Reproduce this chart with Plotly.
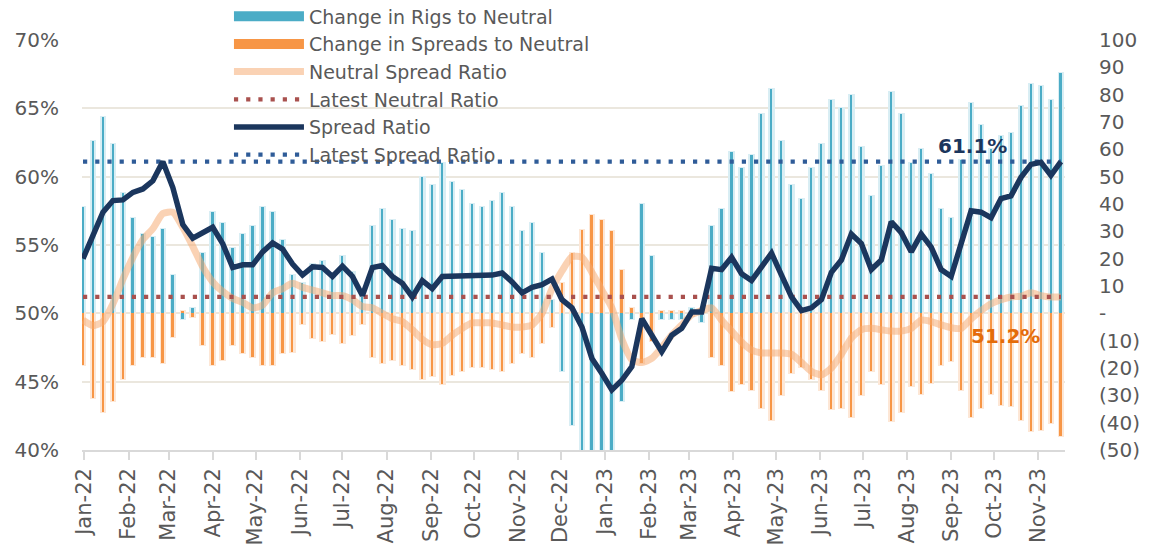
import pandas as pd
import plotly.graph_objects as go

# ---------------- data ----------------
start_date = "2021-12-31"   # weekly observations (Fridays)
n_weeks = 99
dates = pd.date_range(start_date, periods=n_weeks, freq="7D")

rigs_to_neutral = [
    39, 63, 72, 62, 44, 35, 29, 28, 31, 14,
    -2, 2, 22, 37, 33, 24, 29, 32, 39, 37,
    27, 14, 11, 18, 19, 13, 21, 15, 6, 32,
    38, 34, 31, 30, 50, 47, 55, 48, 45, 40,
    39, 41, 44, 39, 30, 33, 22, 5, -21, -41,
    -55, -56, -56, -54, -32, -2, 40, 21, -2, -2,
    -2, 2, -3, 32, 38, 59, 53, 58, 73, 82,
    63, 47, 42, 53, 62, 78, 75, 80, 61, 43,
    54, 81, 73, 55, 60, 51, 38, 35, 56, 77,
    69, 60, 65, 66, 76, 84, 83, 78, 88,
]

spreads_to_neutral = [
    -19, -31, -36, -32, -24, -19, -16, -16, -18, -8.5,
    1, -1.5, -11.5, -19, -17, -11.5, -14.5, -16, -19, -19,
    -14.5, -14, -4, -9, -10, -7.5, -11, -8, -4, -16,
    -18, -17, -19, -20.5, -24, -23, -26, -22.5, -21, -19.5,
    -19.5, -20.5, -21, -18, -14.5, -16, -11, -5, 11, 22,
    30.5, 36, 34, 30, 16, 1.8, -18, -10, 1, 1,
    1, -1, 1.5, -16, -19, -28.5, -26, -28, -34.5, -39,
    -30, -22, -19.5, -24, -28, -35, -34.5, -38, -30, -21,
    -26, -39.5, -36, -26.5, -29.5, -25.5, -19, -17.5, -28, -38,
    -34.5, -29.5, -33.5, -34, -39, -43, -42.5, -40, -45,
]

neutral_spread_ratio = [
    49.5, 49.1, 49.4, 50.7, 52.5, 54.1, 55.4, 56.2, 57.3, 57.4,
    56.3, 54.9, 53.4, 52.3, 51.6, 51.1, 50.8, 50.4, 50.6, 51.5,
    51.8, 52.2, 51.9, 51.7, 51.5, 51.3, 51.3, 51.0, 50.5, 50.4,
    50.0, 49.6, 49.4, 48.8, 48.1, 47.7, 47.8, 48.4, 48.9, 49.3,
    49.3, 49.3, 49.15, 49.0, 49.0, 49.15, 50.0, 51.8, 53.1, 54.15,
    54.1, 53.0, 51.7, 50.4, 48.1, 46.6, 46.4, 46.7, 47.5, 48.4,
    49.15, 49.9, 50.2, 50.4, 49.5, 48.7, 47.9, 47.3, 47.1, 47.1,
    47.1, 47.0, 46.4, 45.75, 45.5, 46.0, 47.0, 48.2, 48.8, 48.9,
    48.8, 48.7, 48.7, 48.9, 49.5, 49.4, 49.15, 48.95, 48.9, 49.6,
    50.2, 50.7, 51.0, 51.2, 51.25, 51.5, 51.3, 51.2, 51.2,
]

spread_ratio = [
    54.0, 55.8, 57.4, 58.25, 58.3, 58.85, 59.1, 59.7, 61.1, 59.2,
    56.5, 55.5, 55.9, 56.3, 55.1, 53.35, 53.55, 53.55, 54.5, 55.15,
    54.7, 53.6, 52.8, 53.4, 53.35, 52.7, 53.45, 52.7, 51.3, 53.35,
    53.5, 52.7, 52.2, 51.2, 52.4, 51.8, 52.7, 52.7, 52.8, 52.8,
    52.8, 52.8, 52.95, 52.3, 51.5, 51.9, 52.1, 52.5, 51.0, 50.4,
    49.0, 46.7, 45.6, 44.4, 45.1, 46.1, 49.6, 48.3, 47.2, 48.4,
    48.9, 50.1, 50.1, 53.3, 53.2, 54.1, 52.9, 52.4, 53.4, 54.4,
    52.8, 51.2, 50.2, 50.4, 51.0, 53.0, 53.9, 55.8, 55.1, 53.2,
    53.9, 56.7, 55.9, 54.5, 55.8, 54.85, 53.2, 52.7, 55.1, 57.5,
    57.4, 57.0, 58.4, 58.6, 59.95, 60.9, 61.05, 60.1, 61.1,
]

latest_spread_ratio = spread_ratio[-1]          # 61.1
latest_neutral_ratio = neutral_spread_ratio[-1]  # 51.2

left_tickvals = [40, 45, 50, 55, 60, 65, 70]
left_ticktext = ["40%", "45%", "50%", "55%", "60%", "65%", "70%"]
right_tickvals = [100, 90, 80, 70, 60, 50, 40, 30, 20, 10, 0, -10, -20, -30, -40, -50]
right_ticktext = ["100", "90", "80", "70", "60", "50", "40", "30", "20", "10", "-",
                  "(10)", "(20)", "(30)", "(40)", "(50)"]

# ---------------- styling ----------------
FONT = "DejaVu Sans"
TXT = "#595959"
BLUE = "#4BACC6"
BLUE_GLOW = "#D9EEF4"
ORANGE = "#F79646"
ORANGE_GLOW = "#FDE7D6"
NAVY = "#1B365D"
DAY_MS = 86400000
core_w = 1.3 * DAY_MS
glow_w = 3.2 * DAY_MS

fig = go.Figure()

# bar glows (primary y: right-hand scale)
fig.add_trace(go.Bar(x=dates, y=rigs_to_neutral, width=glow_w, yaxis="y",
                     marker=dict(color=BLUE_GLOW, line=dict(color=BLUE_GLOW, width=2)),
                     showlegend=False, hoverinfo="skip", legendgroup="rigs"))
fig.add_trace(go.Bar(x=dates, y=spreads_to_neutral, width=glow_w, yaxis="y",
                     marker=dict(color=ORANGE_GLOW, line=dict(color=ORANGE_GLOW, width=2)),
                     showlegend=False, hoverinfo="skip", legendgroup="spreads"))
# bar cores
fig.add_trace(go.Bar(x=dates, y=rigs_to_neutral, width=core_w, yaxis="y",
                     name="Change in Rigs to Neutral", showlegend=False, legendgroup="rigs",
                     marker=dict(color=BLUE, line=dict(width=0))))
fig.add_trace(go.Bar(x=dates, y=spreads_to_neutral, width=core_w, yaxis="y",
                     name="Change in Spreads to Neutral", showlegend=False, legendgroup="spreads",
                     marker=dict(color=ORANGE, line=dict(width=0))))

# legend keys for the bar series (wide rectangular swatches, like the original)
fig.add_trace(go.Scatter(x=[None], y=[None], yaxis="y2", mode="lines",
                         name="Change in Rigs to Neutral", legendrank=1, legendgroup="rigs",
                         line=dict(color=BLUE, width=13), hoverinfo="skip"))
fig.add_trace(go.Scatter(x=[None], y=[None], yaxis="y2", mode="lines",
                         name="Change in Spreads to Neutral", legendrank=2, legendgroup="spreads",
                         line=dict(color=ORANGE, width=13), hoverinfo="skip"))

# lines (overlay percent axis)
fig.add_trace(go.Scatter(x=dates, y=neutral_spread_ratio, yaxis="y2", mode="lines",
                         name="Neutral Spread Ratio", legendrank=3,
                         line=dict(color="rgba(245,168,112,0.52)", width=7,
                                   shape="spline", smoothing=0.6)))
fig.add_trace(go.Scatter(x=dates, y=[latest_neutral_ratio] * n_weeks, yaxis="y2", mode="lines",
                         name="Latest Neutral Ratio", legendrank=4,
                         line=dict(color="#A9514E", width=4.2, dash="4.2px,8px")))
fig.add_trace(go.Scatter(x=dates, y=[latest_spread_ratio] * n_weeks, yaxis="y2", mode="lines",
                         name="Latest Spread Ratio", legendrank=6,
                         line=dict(color="#2F5C98", width=4.2, dash="4.2px,8px")))
fig.add_trace(go.Scatter(x=dates, y=spread_ratio, yaxis="y2", mode="lines",
                         name="Spread Ratio", legendrank=5,
                         line=dict(color=NAVY, width=5.5)))

fig.update_layout(
    width=1141, height=545,
    margin=dict(l=74, r=84, t=32, b=103, autoexpand=False),
    paper_bgcolor="white", plot_bgcolor="white",
    barmode="overlay", bargap=0,
    font=dict(family=FONT, size=20, color=TXT),
    showlegend=True,
    legend=dict(x=0.1495, y=1.104, xanchor="left", yanchor="top",
                bgcolor="rgba(0,0,0,0)", font=dict(family=FONT, size=19, color=TXT),
                itemwidth=70, tracegroupgap=0, traceorder="normal",
                groupclick="togglegroup"),
    xaxis=dict(type="date", range=["2021-12-30 07:00", "2023-11-19 21:00"],
               tick0="2022-01-01", dtick="M1", tickformat="%b-%y", tickangle=-90,
               ticks="outside", ticklen=8, tickcolor="#D9D9D9", tickwidth=1.5,
               showline=True, linecolor="#D9D9D9", linewidth=1.5, showgrid=False,
               zeroline=False, tickfont=dict(family=FONT, size=21, color=TXT)),
    yaxis=dict(side="right", range=[-50, 100], tickvals=right_tickvals,
               ticktext=right_ticktext, showgrid=False, zeroline=False,
               ticklabelstandoff=33, tickfont=dict(family=FONT, size=20, color=TXT)),
    yaxis2=dict(side="left", overlaying="y", range=[40, 70], tickvals=left_tickvals,
                ticktext=left_ticktext, showgrid=True, gridcolor="#EBE7DE", gridwidth=1.5,
                zeroline=False, ticklabelstandoff=22,
                tickfont=dict(family=FONT, size=20, color=TXT)),
    annotations=[
        dict(x=0.906, xref="paper", xanchor="center", y=latest_spread_ratio, yref="y2",
             yanchor="bottom", text="<b>61.1%</b>", showarrow=False, yshift=2,
             font=dict(family=FONT, size=20, color=NAVY)),
        dict(x=0.939, xref="paper", xanchor="center", y=latest_neutral_ratio, yref="y2",
             yanchor="top", text="<b>51.2%</b>", showarrow=False, yshift=-25,
             font=dict(family=FONT, size=20, color="#E46C0A")),
    ],
)

fig.write_html("out.html")
